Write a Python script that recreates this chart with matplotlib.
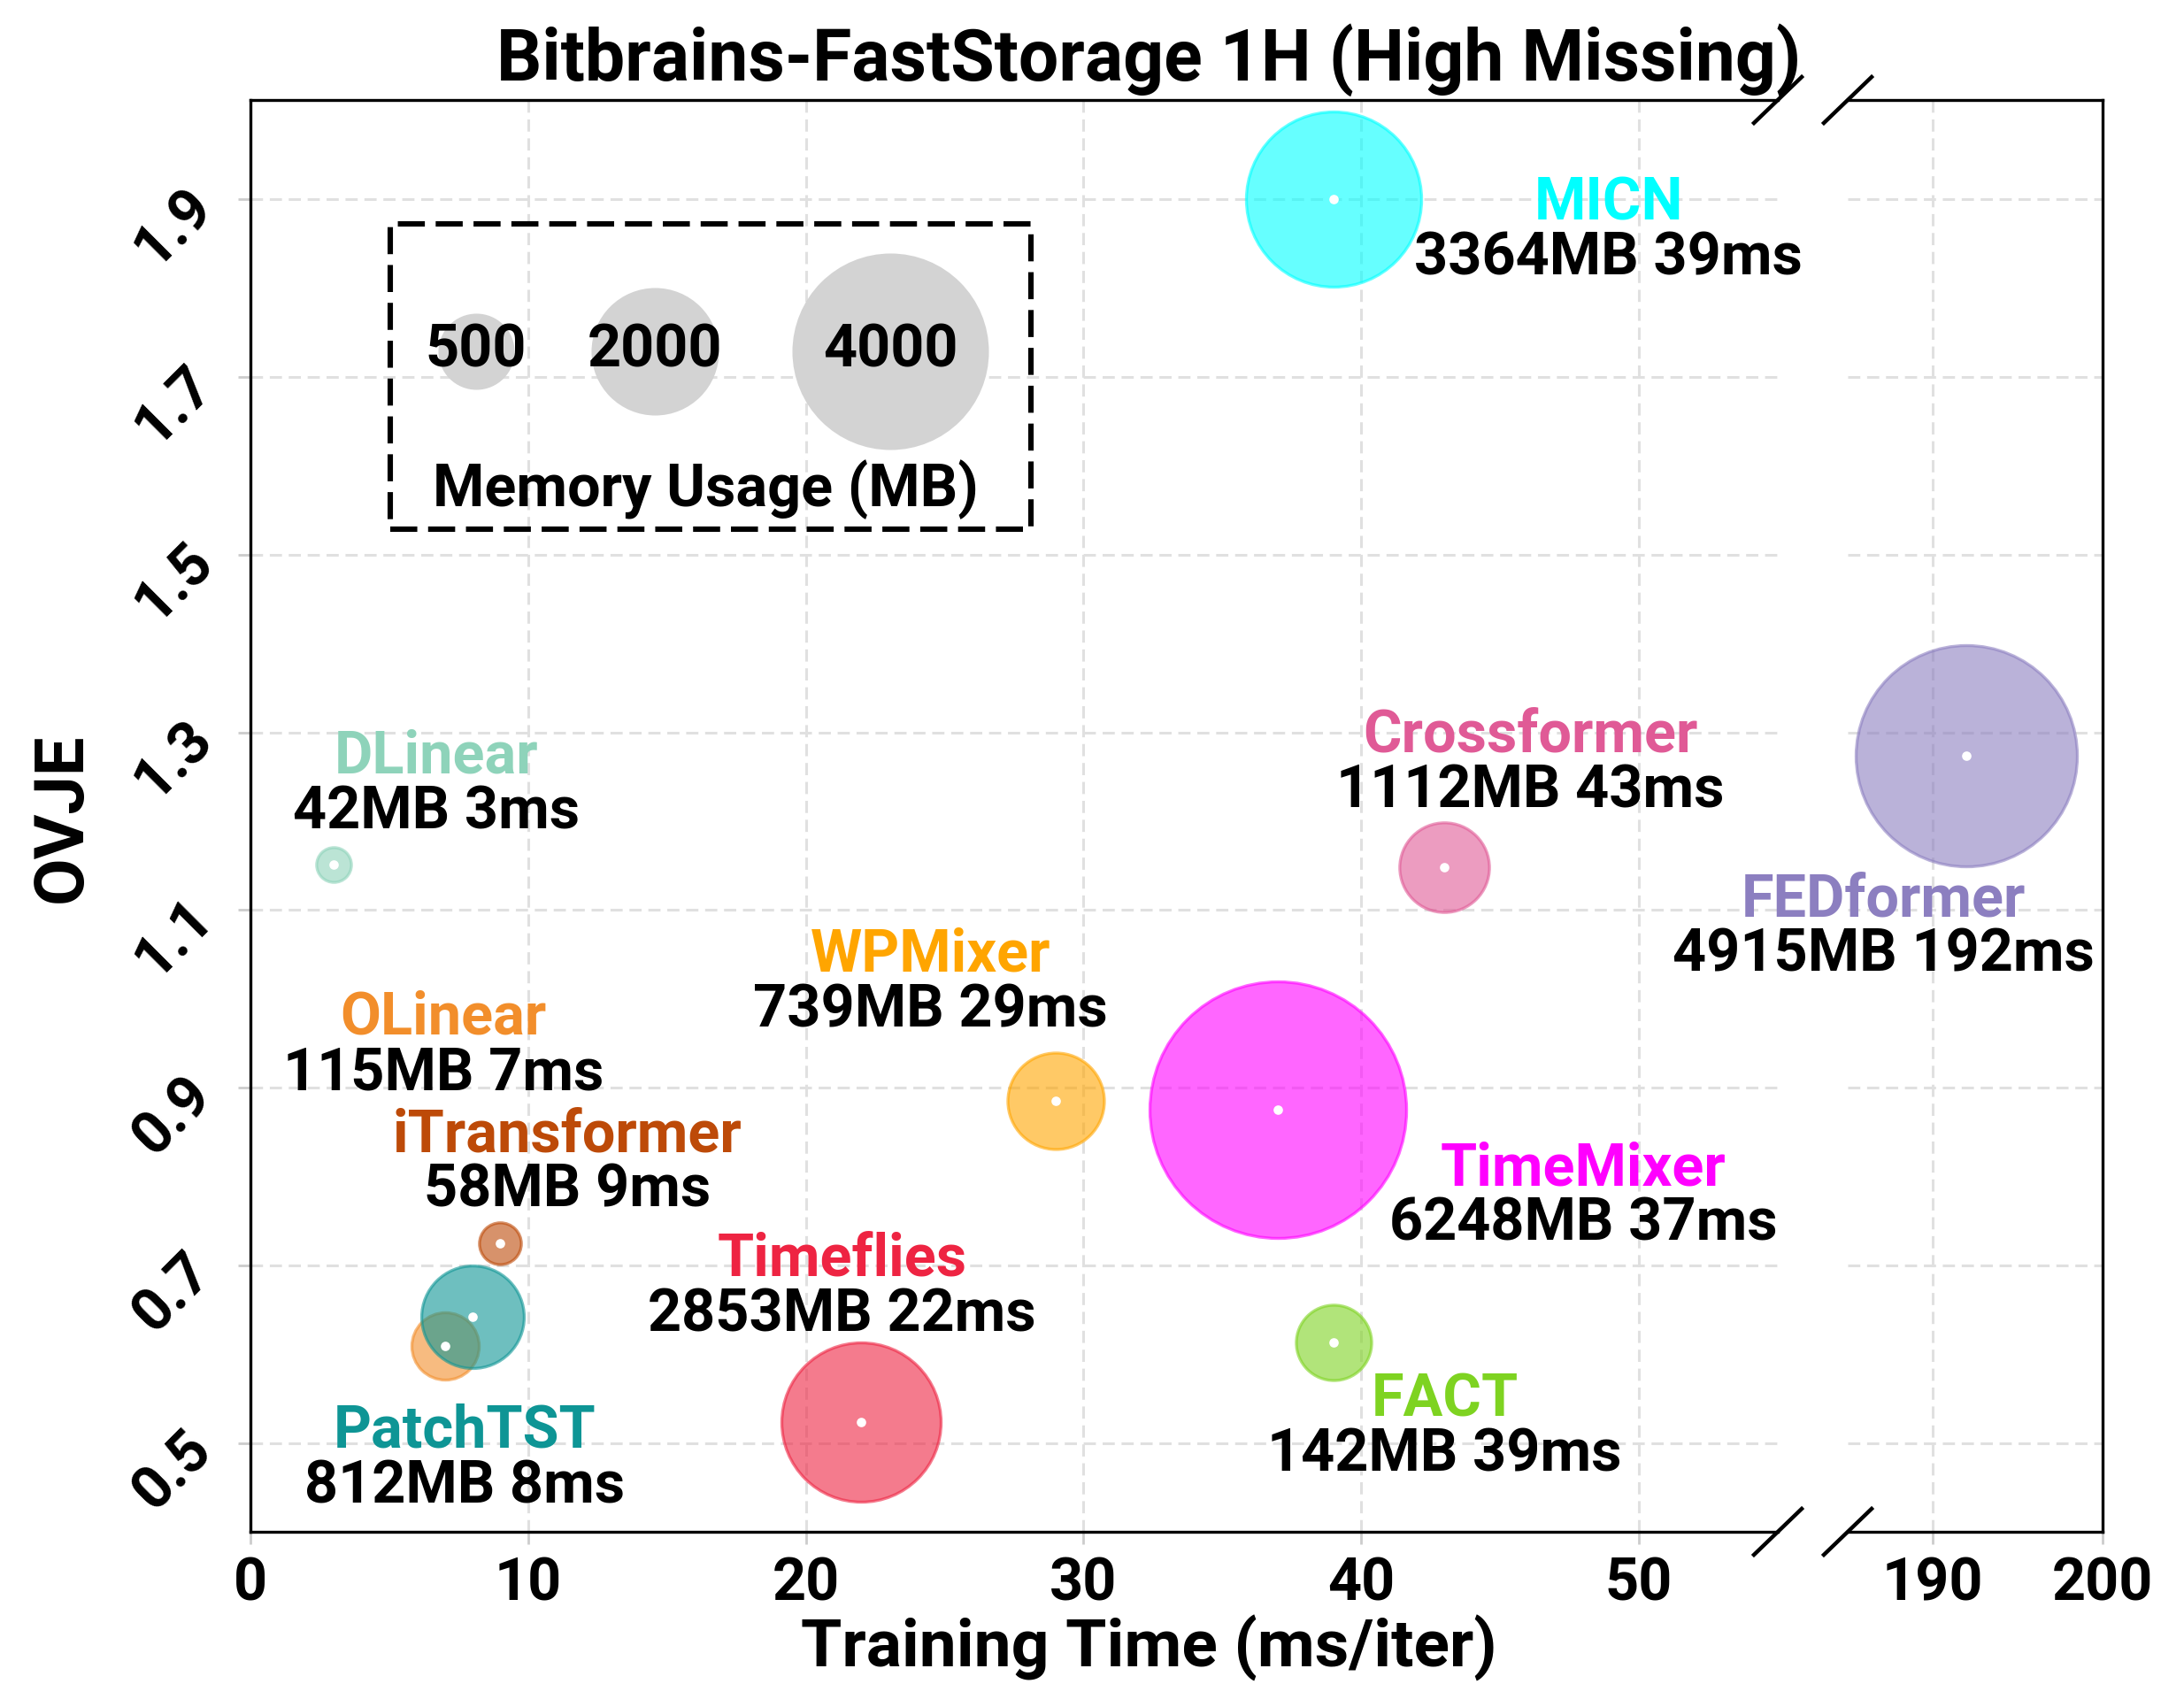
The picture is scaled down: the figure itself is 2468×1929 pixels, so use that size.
import matplotlib
matplotlib.use("Agg")
import matplotlib.pyplot as plt
from matplotlib.lines import Line2D
from matplotlib.patches import Rectangle

plt.rcParams['font.family'] = ['Roboto', 'DejaVu Sans']
plt.rcParams['font.weight'] = 'bold'

# data
models = ['MICN', 'DLinear', 'Crossformer', 'FEDformer', 'WPMixer', 'OLinear',
          'iTransformer', 'PatchTST', 'Timeflies', 'TimeMixer', 'FACT']
train_ms = [39, 3, 43, 192, 29, 7, 9, 8, 22, 37, 39]
ovje = [1.900, 1.151, 1.148, 1.274, 0.885, 0.609, 0.725, 0.642, 0.524, 0.875, 0.613]
memory_mb = [3364, 42, 1112, 4915, 739, 115, 58, 812, 2853, 6248, 142]
# bubble areas as drawn in the chart (points^2)
bubble_area = [5080, 200, 1330, 8100, 1540, 750, 290, 1740, 4200, 10900, 940]

legend_mb = [500, 2000, 4000]
legend_area = [960, 2690, 6390]

colors = ['#00FFFF', '#8ED3BA', '#E05A96', '#8C7FC0', '#FFA500', '#F28E2B',
          '#BD4A08', '#0E9595', '#EE2442', '#FF00FF', '#7ED321']
# where the name label sits (data coords)
label_xy = [(48.9, 1.895), (6.7, 1.272), (46.1, 1.296), (187.1, 1.111),
            (24.5, 1.049), (6.95, 0.978), (11.4, 0.846), (7.7, 0.513),
            (21.3, 0.706), (48.0, 0.808), (43.0, 0.548)]

W, H, DPI = 2468, 1929, 200
fig = plt.figure(figsize=(W / DPI, H / DPI), dpi=DPI)

L, R1, R0, R = 283, 2009, 2088, 2376
T, B = 113, 1731
ax1 = fig.add_axes([L / W, 1 - B / H, (R1 - L) / W, (B - T) / H])
ax2 = fig.add_axes([R0 / W, 1 - B / H, (R - R0) / W, (B - T) / H], sharey=ax1)
ax1.set_facecolor('none')
ax2.set_facecolor('none')

ax1.set_xlim(0, 55)
ax2.set_xlim(185, 200)
ax1.set_ylim(0.4, 2.012)
ax1.set_xticks([0, 10, 20, 30, 40, 50])
ax2.set_xticks([190, 200])
ax1.set_yticks([0.5, 0.7, 0.9, 1.1, 1.3, 1.5, 1.7, 1.9])

ax1.spines['right'].set_visible(False)
ax2.spines['left'].set_visible(False)
for ax in (ax1, ax2):
    for s in ax.spines.values():
        s.set_linewidth(1.2)
    ax.grid(True, color='#E0E0E0', linestyle=(0, (4.5, 2.5)), linewidth=1.1)
    ax.set_axisbelow(True)
    ax.tick_params(axis='both', direction='out', length=5, width=1,
                   color='#CCCCCC', labelsize=24, pad=5)
ax2.tick_params(axis='y', left=False, labelleft=False)
for lab in ax1.get_yticklabels():
    lab.set_rotation(45)
ax1.tick_params(axis='y', pad=6)

for i, m in enumerate(models):
    ax = ax2 if train_ms[i] > 100 else ax1
    ax.scatter(train_ms[i], ovje[i], s=bubble_area[i], color=colors[i],
               alpha=0.6, edgecolors=colors[i], linewidths=1.2, zorder=3)
    ax.scatter(train_ms[i], ovje[i], s=8, color='white', zorder=4)
    lx, ly = label_xy[i]
    ax.text(lx, ly, m, color=colors[i], fontsize=24, ha='center',
            va='center', zorder=5)
    ax.annotate(f'{memory_mb[i]}MB {train_ms[i]}ms', (lx, ly),
                xytext=(0, -22.5), textcoords='offset points', fontsize=24,
                ha='center', va='center', color='black', zorder=5)

# memory legend
ax1.add_patch(Rectangle((0.0915, 0.700), 0.4195, 0.2135, transform=ax1.transAxes,
                        fill=False, edgecolor='black', linewidth=2.2,
                        linestyle=(0, (5, 2)), zorder=6))
leg_x = [0.1477, 0.2648, 0.419]
for x, mb, a in zip(leg_x, legend_mb, legend_area):
    ax1.scatter(x, 0.8245, s=a, color='#D3D3D3', transform=ax1.transAxes,
                zorder=6, linewidths=0)
    ax1.text(x, 0.8245, str(mb), transform=ax1.transAxes, fontsize=24,
             ha='center', va='center', zorder=7)
ax1.text(0.298, 0.728, 'Memory Usage (MB)', transform=ax1.transAxes,
         fontsize=24, ha='center', va='center', zorder=7)

# axis break marks
dx, dy = 27 / W, 26 / H
for xe in (R1 / W, R0 / W):
    for ye in (1 - T / H, 1 - B / H):
        fig.add_artist(Line2D([xe - dx, xe + dx], [ye - dy, ye + dy],
                              color='black', linewidth=1.6,
                              transform=fig.transFigure))

fig.text(0.526, 1 - 68 / H, 'Bitbrains-FastStorage 1H (High Missing)',
         fontsize=29, ha='center', va='center')
fig.text(0.526, 1 - 1862 / H, 'Training Time (ms/iter)', fontsize=27,
         ha='center', va='center')
fig.text(71 / W, 1 - 924 / H, 'OVJE', fontsize=28, rotation=90,
         ha='center', va='center')

fig.savefig('out.png', dpi=DPI)
